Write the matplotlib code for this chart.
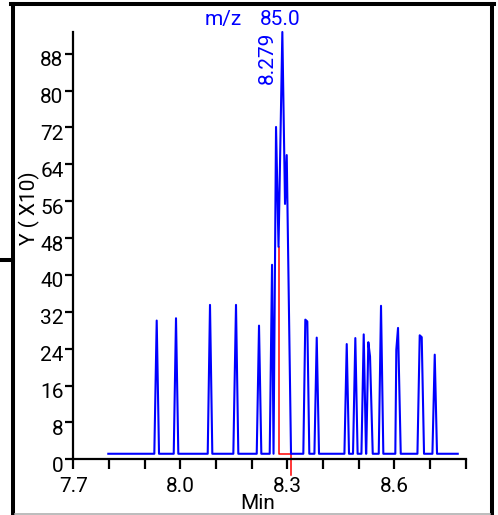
import matplotlib
matplotlib.use('Agg')
import matplotlib.pyplot as plt
import matplotlib.transforms as mtransforms
from matplotlib.lines import Line2D
import numpy as np

plt.rcParams['font.family'] = ['Roboto', 'DejaVu Sans']

# ── Data ──────────────────────────────────────────────────────────────────────
rt_min = [7.7981,
          7.9271, 7.9338, 7.9403,
          7.9815, 7.9879, 7.9944,
          8.0768, 8.0832, 8.0897,
          8.1486, 8.1561, 8.1626,
          8.2142, 8.2206, 8.2271,
          8.2506, 8.2571, 8.2613, 8.2683, 8.2753, 8.2860, 8.2935, 8.2983, 8.3103,
          8.3448, 8.3504, 8.3560, 8.3616,
          8.3759, 8.3824, 8.3888,
          8.4600, 8.4665, 8.4729,
          8.4841, 8.4906, 8.4970,
          8.5077, 8.5141, 8.5206,
          8.5212, 8.5270, 8.5318, 8.5394,
          8.5562, 8.5626, 8.5691,
          8.6027, 8.6055, 8.6103, 8.6179,
          8.6647, 8.6711, 8.6767, 8.6832,
          8.7067, 8.7132, 8.7196,
          8.7777]
abundance = [1.2,
             1.2, 30.1, 1.2,
             1.2, 30.6, 1.2,
             1.2, 33.5, 1.2,
             1.2, 33.5, 1.2,
             1.2, 29.0, 1.2,
             1.2, 42.2, 1.2, 72.1, 46.1, 92.7, 55.4, 66.0, 1.2,
             1.2, 30.3, 29.9, 1.2,
             1.2, 26.4, 1.2,
             1.2, 25.0, 1.2,
             1.2, 26.3, 1.2,
             1.2, 27.1, 1.2,
             1.2, 25.4, 22.3, 1.2,
             1.2, 33.3, 1.2,
             1.2, 23.8, 28.5, 1.2,
             1.2, 26.9, 26.5, 1.2,
             1.2, 22.7, 1.2,
             1.2]

# integration marker of the labelled peak
integ_t = [8.2753, 8.2753, 8.3103]
integ_v = [46.1, 1.2, 1.2]
integ_end = 8.3103

apex_rt_label = "8.279"
mz_label = "85.0"

y_ticks = list(range(0, 89, 8))
x_ticks = [round(7.7 + 0.1 * i, 1) for i in range(12)]
x_labelled = [7.7, 8.0, 8.3, 8.6]

W, H = 498, 515
fig = plt.figure(figsize=(W / 100, H / 100), dpi=100)

def fx(px):
    return px / W

def fy(py):
    return 1 - py / H

ax = fig.add_axes([fx(73.3), fy(459.3), fx(465.7) - fx(73.3), fy(32) - fy(459.3)])

ax.plot(rt_min, abundance, color='#0000ff', lw=1.5, clip_on=False, zorder=3)
ax.plot(integ_t, integ_v, color='#ff0000', lw=1.1, clip_on=False, zorder=2)
ax.plot([integ_end, integ_end], [1.2, -3.4], color='#ff0000', lw=1.1, clip_on=False)

ax.set_xlim(7.7, 8.8)
ax.set_ylim(0, 92.7)

for s in ['top', 'right']:
    ax.spines[s].set_visible(False)
for s in ['left', 'bottom']:
    ax.spines[s].set_linewidth(1.6)
    ax.spines[s].set_color('black')

ax.set_yticks(y_ticks)
ax.set_yticklabels([str(v) for v in y_ticks])
ax.set_xticks(x_ticks)
ax.set_xticklabels([f"{v:.1f}" if v in x_labelled else "" for v in x_ticks])
ax.tick_params(axis='y', direction='out', length=6, width=1.6, pad=1, labelsize=15)
ax.tick_params(axis='x', direction='out', length=7.5, width=1.6, pad=5, labelsize=15)

off = mtransforms.ScaledTranslation(0, -5 / 100, fig.dpi_scale_trans)
for lab in ax.get_yticklabels():
    lab.set_transform(lab.get_transform() + off)

# apex retention time label
ax.annotate(apex_rt_label, xy=(8.2860, 92.7), xytext=(-4, 0), textcoords='offset points',
            rotation=90, ha='right', va='top', color='#0000ff', fontsize=15,
            annotation_clip=False)

# header text
fig.text(fx(223.5), fy(19.5), "m/z", color='#0000ff', fontsize=15, ha='center', va='center')
fig.text(fx(280), fy(19.5), mz_label, color='#0000ff', fontsize=15, ha='center', va='center')

# axis titles
fig.text(fx(29), fy(208.5), "Y ( X10)", rotation=90, fontsize=15, ha='center', va='center')
fig.text(fx(258), fy(513), "Min", fontsize=15, ha='center', va='bottom')

# window frame
frame_kw = dict(color='black', lw=2.9, transform=fig.transFigure)
fig.add_artist(Line2D([fx(13), fx(13)], [fy(4), fy(520)], **frame_kw))
fig.add_artist(Line2D([fx(492), fx(492)], [fy(4), fy(520)], **frame_kw))
fig.add_artist(Line2D([fx(11), fx(494)], [fy(4), fy(4)], **frame_kw))
fig.add_artist(Line2D([fx(0), fx(13)], [fy(260), fy(260)], **frame_kw))
fig.add_artist(Line2D([fx(15), fx(490)], [fy(514), fy(514)], color='#b0b0b0', lw=1.2,
                      transform=fig.transFigure))

fig.savefig("out.png", dpi=100)
